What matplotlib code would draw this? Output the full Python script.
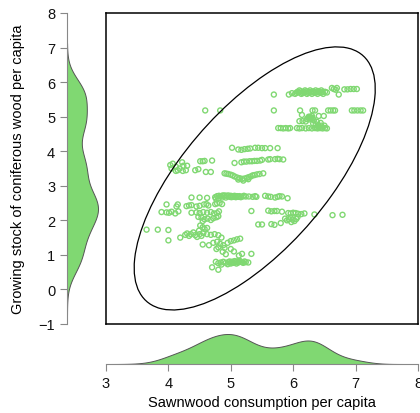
import numpy as np
import matplotlib.pyplot as plt
from matplotlib.patches import Ellipse

plt.rcParams['font.family'] = ['Liberation Sans', 'DejaVu Sans']

# points, grouped by the visible streaks (x, y)
top_rows = [(6.03, 5.66), (6.07, 5.72), (6.10, 5.76), (6.13, 5.66), (6.16, 5.72), (6.19, 5.76),
            (6.22, 5.66), (6.25, 5.72), (6.27, 5.76), (6.30, 5.66), (6.33, 5.72), (6.36, 5.76),
            (6.39, 5.66), (6.42, 5.72), (6.45, 5.76), (6.48, 5.66), (6.51, 5.72), (6.54, 5.70),
            (6.05, 5.69), (6.09, 5.70), (6.12, 5.73), (6.15, 5.68), (6.18, 5.70), (6.21, 5.73),
            (6.24, 5.69), (6.28, 5.70), (6.31, 5.73), (6.34, 5.69), (6.37, 5.70), (6.40, 5.74),
            (6.44, 5.69), (6.47, 5.71),
            (5.69, 5.64), (5.93, 5.64), (5.98, 5.68), (6.62, 5.83), (6.65, 5.80), (6.68, 5.78),
            (6.70, 5.83), (6.73, 5.64), (6.82, 5.79), (6.87, 5.79), (6.92, 5.80), (6.97, 5.80),
            (7.02, 5.80),
            (4.59, 5.18), (4.83, 5.18), (5.69, 5.18), (6.11, 5.18), (6.31, 5.18), (6.35, 5.18),
            (6.56, 5.18), (6.60, 5.18), (6.64, 5.18), (6.67, 5.18), (6.94, 5.18), (6.98, 5.18),
            (7.03, 5.18), (7.08, 5.18), (7.12, 5.18)]

upper_mid = [(6.14, 5.05), (6.27, 4.99), (6.25, 5.00), (6.29, 4.97), (6.30, 5.02), (6.22, 4.93),
             (6.41, 5.02), (6.49, 5.02), (6.10, 4.87), (6.15, 4.87), (6.20, 4.86), (6.33, 4.90),
             (6.38, 4.85), (6.44, 4.82), (6.26, 4.92), (6.32, 4.80), (6.40, 4.75), (6.45, 4.74),
             (6.50, 4.74), (6.36, 4.78), (6.28, 4.95), (6.24, 4.97), (6.31, 4.96),
             (5.76, 4.67), (5.80, 4.67), (5.84, 4.66), (5.88, 4.67), (5.92, 4.66), (5.95, 4.67),
             (6.06, 4.67), (6.10, 4.66), (6.14, 4.67), (6.20, 4.66), (6.25, 4.67), (6.30, 4.66),
             (6.35, 4.67), (6.39, 4.66), (6.43, 4.67), (6.47, 4.66), (6.51, 4.67), (6.54, 4.66),
             (6.37, 4.68), (6.41, 4.69), (6.45, 4.68),
             (5.02, 4.10), (5.12, 4.05), (5.17, 4.04), (5.22, 4.06), (5.27, 4.07), (5.31, 4.08),
             (5.39, 4.10), (5.44, 4.10), (5.50, 4.09), (5.55, 4.09), (5.63, 4.09), (5.75, 4.09),
             (5.06, 3.66), (5.17, 3.68), (5.21, 3.70), (5.25, 3.70), (5.30, 3.71), (5.34, 3.71),
             (5.38, 3.72), (5.42, 3.72), (5.47, 3.73), (5.50, 3.75), (5.60, 3.76), (5.63, 3.77),
             (5.71, 3.77), (5.75, 3.78), (5.78, 3.77), (5.84, 3.76)]

middle = [(4.03, 3.60), (4.07, 3.64), (4.05, 3.50), (4.12, 3.55), (4.18, 3.50), (4.22, 3.68),
          (4.24, 3.58), (4.30, 3.58), (4.15, 3.45), (4.28, 3.45), (4.23, 3.43), (4.12, 3.43),
          (4.43, 3.45), (4.48, 3.48), (4.51, 3.71), (4.55, 3.71), (4.58, 3.72), (4.70, 3.73),
          (4.60, 3.40), (4.68, 3.40),
          (4.90, 3.36), (4.93, 3.35), (4.96, 3.34), (5.00, 3.32), (5.03, 3.30), (5.06, 3.27),
          (5.10, 3.24), (5.14, 3.22), (5.18, 3.20), (5.22, 3.21), (5.26, 3.23), (5.29, 3.25),
          (5.32, 3.27), (5.35, 3.30), (5.38, 3.31), (5.42, 3.33), (5.46, 3.34), (5.52, 3.36),
          (5.12, 3.18), (5.20, 3.15), (5.28, 3.19),
          (4.37, 2.66), (4.50, 2.66), (4.62, 2.65), (4.75, 2.67), (4.78, 2.70), (4.81, 2.71),
          (4.84, 2.70), (4.87, 2.72), (4.90, 2.72), (4.93, 2.71), (4.96, 2.72), (5.00, 2.71),
          (5.03, 2.70), (5.06, 2.71), (5.10, 2.70), (5.14, 2.70), (5.19, 2.69), (5.24, 2.69),
          (5.29, 2.69), (5.35, 2.68), (5.41, 2.68), (4.76, 2.63), (4.80, 2.64), (4.86, 2.66),
          (4.92, 2.66), (4.98, 2.68), (5.01, 2.67), (5.04, 2.68), (5.08, 2.67), (5.12, 2.68),
          (5.16, 2.67), (5.21, 2.71),
          (5.39, 2.70), (5.55, 2.71), (5.60, 2.69), (5.64, 2.68), (5.71, 2.66),
          (5.75, 2.68), (5.78, 2.70), (5.82, 2.69), (5.91, 2.64)]

lower_mid = [(3.97, 2.46), (4.15, 2.46), (4.13, 2.40), (4.29, 2.41), (4.33, 2.43), (4.37, 2.44),
             (4.45, 2.40), (4.50, 2.42), (4.57, 2.46), (4.61, 2.47), (4.64, 2.43), (4.75, 2.47),
             (4.78, 2.49), (4.82, 2.50), (4.86, 2.47),
             (3.89, 2.24), (3.97, 2.23), (4.01, 2.22), (4.05, 2.25), (4.11, 2.20), (4.16, 2.26),
             (4.37, 2.22), (4.45, 2.23), (4.50, 2.21), (4.56, 2.24), (4.62, 2.22), (4.68, 2.24),
             (4.73, 2.20), (4.78, 2.21), (4.81, 2.26), (5.33, 2.27),
             (5.60, 2.28), (5.65, 2.26), (5.70, 2.27), (5.74, 2.27), (5.82, 2.25), (5.92, 2.21),
             (5.96, 2.20), (6.00, 2.22), (6.04, 2.21), (6.08, 2.19), (6.13, 2.18), (6.18, 2.20),
             (6.34, 2.17), (6.63, 2.15), (6.79, 2.16),
             (4.48, 2.10), (4.53, 2.08), (4.58, 2.03), (4.63, 2.05), (4.68, 2.01), (4.72, 2.06),
             (4.77, 2.09), (4.80, 2.12), (4.55, 1.98),
             (5.87, 2.05), (5.90, 2.00), (5.93, 2.03), (5.96, 2.07), (5.99, 2.02), (6.02, 1.98),
             (6.05, 2.04), (6.07, 2.10), (5.80, 1.92), (5.97, 1.95), (5.44, 1.88), (5.50, 1.88),
             (5.65, 1.89), (5.70, 1.87)]

bottom_rows = [(3.65, 1.73), (3.83, 1.73), (4.00, 1.72), (4.51, 1.85), (4.55, 1.80), (4.58, 1.75),
               (4.62, 1.78), (4.49, 1.70),
               (4.19, 1.50), (4.00, 1.42), (4.27, 1.58), (4.30, 1.62), (4.33, 1.55), (4.36, 1.60),
               (4.40, 1.65), (4.43, 1.57), (4.46, 1.52), (4.50, 1.60), (4.53, 1.55), (4.56, 1.63),
               (4.62, 1.60), (4.68, 1.58), (4.74, 1.60), (4.80, 1.57), (4.85, 1.50),
               (4.55, 1.30), (4.65, 1.28), (4.72, 1.35), (4.78, 1.38), (4.83, 1.32), (4.88, 1.28),
               (4.95, 1.35), (5.00, 1.40), (5.05, 1.42), (5.10, 1.45), (5.15, 1.47), (4.80, 1.22),
               (4.90, 1.20), (5.00, 1.17),
               (4.77, 1.17), (4.87, 1.09), (4.92, 1.02), (5.05, 1.10), (5.13, 0.98), (5.18, 1.03),
               (5.33, 1.03),
               (4.76, 0.80), (4.80, 0.76), (4.84, 0.78), (4.88, 0.80), (4.92, 0.77), (4.96, 0.79),
               (5.00, 0.78), (5.04, 0.77), (5.08, 0.79), (5.12, 0.78), (5.16, 0.80), (5.20, 0.77),
               (5.24, 0.79), (5.28, 0.78), (4.85, 0.72), (4.95, 0.73), (4.70, 0.64), (4.80, 0.57),
               (4.98, 0.81), (5.02, 0.80), (5.06, 0.82), (5.10, 0.81), (5.14, 0.83), (5.18, 0.79),
               (5.22, 0.81), (5.00, 0.75), (5.09, 0.75)]

pts = np.array(top_rows + upper_mid + middle + lower_mid + bottom_rows)
x = pts[:, 0]
y = pts[:, 1]

green = '#80d872'
W, H = 420, 414


def box(l, t, r, b):
    return [l / W, (H - b) / H, (r - l) / W, (b - t) / H]


def kde(v, grid):
    # gaussian kernel, R-style nrd0 bandwidth
    q = np.percentile(v, [25, 75])
    bw = 0.9 * min(v.std(ddof=1), (q[1] - q[0]) / 1.34) * len(v) ** -0.2
    d = np.exp(-0.5 * ((grid[:, None] - v[None, :]) / bw) ** 2).sum(1)
    return d / (len(v) * bw * np.sqrt(2 * np.pi)), bw


fig = plt.figure(figsize=(W / 100, H / 100), dpi=100)

ax = fig.add_axes(box(106, 14, 418, 325))
ax.scatter(x, y, s=13, facecolors='none', edgecolors=green, linewidths=1.0)
ax.set_xlim(3, 8)
ax.set_ylim(-1, 8)
ax.set_xticks([])
ax.set_yticks([])
for s in ax.spines.values():
    s.set_linewidth(1.1)

# 95% normal ellipse
cov = np.cov(x, y)
vals, vecs = np.linalg.eigh(cov)
k = np.sqrt(5.991)
ang = np.degrees(np.arctan2(vecs[1, 1], vecs[0, 1]))
ax.add_patch(Ellipse((x.mean(), y.mean()), 2 * k * np.sqrt(vals[1]), 2 * k * np.sqrt(vals[0]),
                     angle=ang, fill=False, color='black', lw=0.9))

# left marginal density
_, bwy = kde(y, np.array([0.0]))
gy = np.linspace(y.min() - 3 * bwy, y.max() + 3 * bwy, 300)
dy, _ = kde(y, gy)
axl = fig.add_axes(box(67, 14, 100, 325))
axl.fill_betweenx(gy, 0, dy, color=green, edgecolor='#555555', lw=0.7)
axl.set_ylim(-1, 8)
axl.set_xlim(0, dy.max() * 33 / 31)
axl.set_yticks(range(-1, 9))
axl.set_xticks([])
for s in ['top', 'right', 'bottom']:
    axl.spines[s].set_visible(False)
axl.spines['left'].set_color('#888888')
axl.tick_params(axis='y', colors='#888888', labelcolor='#111111', length=5, labelsize=10.5)
axl.patch.set_visible(False)
axl.set_ylabel('Growing stock of coniferous wood per capita', fontsize=10.5, labelpad=10)

# bottom marginal density
_, bwx = kde(x, np.array([0.0]))
gx = np.linspace(x.min() - 3 * bwx, x.max() + 3 * bwx, 300)
dx, _ = kde(x, gx)
axb = fig.add_axes(box(106, 333, 418, 365))
axb.fill_between(gx, 0, dx, color=green, edgecolor='#555555', lw=0.7)
axb.set_xlim(3, 8)
axb.set_ylim(0, dx.max() * 32 / 30)
axb.set_xticks(range(3, 9))
axb.set_yticks([])
for s in ['top', 'right', 'left']:
    axb.spines[s].set_visible(False)
axb.spines['bottom'].set_color('#888888')
axb.tick_params(axis='x', colors='#888888', labelcolor='#111111', length=5, labelsize=10.5)
axb.patch.set_visible(False)
axb.set_xlabel('Sawnwood consumption per capita', fontsize=10.5, labelpad=4)

fig.savefig('out.png', dpi=100)
